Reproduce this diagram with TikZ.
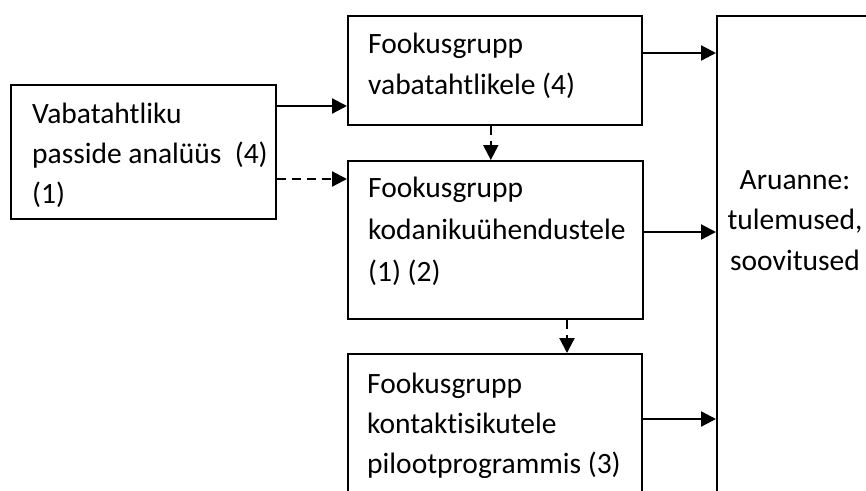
\documentclass[tikz,border=0pt]{standalone}
\usepackage{fontspec}
\setmainfont[Ligatures=NoCommon]{Carlito}
\usetikzlibrary{arrows.meta}
\tikzset{
  box/.style={draw, line width=1.6pt, anchor=north west, inner sep=0pt},
  txt/.style={anchor=base west, align=flush left, text width=280pt, inner sep=0pt},
  arr/.style={line width=2.2pt, -{Triangle[length=15pt,width=15pt]}},
  darr/.style={arr, dash pattern=on 9pt off 6pt}
}

\begin{document}
\begin{tikzpicture}[x=1pt, y=-1pt, font=\fontsize{29.5}{41}\selectfont]
\useasboundingbox (0,0) rectangle (866,490);
\clip (0,0) rectangle (866,490);
\node[box, minimum width=265pt, minimum height=134pt] (analyys) at (10,84) {};
\node[box, minimum width=294pt, minimum height=109pt] (vabat) at (347,15) {};
\node[box, minimum width=295pt, minimum height=158pt] (kodan) at (347,160) {};
\node[box, minimum width=294pt, minimum height=200pt] (pilot) at (347,353) {};
\node[box, minimum width=158pt, minimum height=520pt] (aru) at (716,15) {};
\node[txt, font=\fontsize{29.5}{40}\selectfont] (analyysT) at (32,123) {Vabatahtliku\\passide analüüs\ \ (4)\\(1)};
\node[txt] (vabatT) at (368,53) {Fookusgrupp\\vabatahtlikele (4)};
\node[txt, font=\fontsize{29.5}{42}\selectfont] (kodanT) at (368,197) {Fookusgrupp\\kodanikuühendustele\\(1) (2)};
\node[txt, font=\fontsize{29.5}{40}\selectfont] (pilotT) at (367,393) {Fookusgrupp\\kontaktisikutele\\pilootprogrammis (3)};
\node[txt, anchor=base, align=flush center, text width=160pt, font=\fontsize{29.5}{40.5}\selectfont] (aruT) at (795,189) {Aruanne:\\tulemused,\\soovitused};
\coordinate (a1) at ([yshift=-22pt]analyys.north east);
\coordinate (a2) at ([yshift=-95pt]analyys.north east);
\coordinate (v1) at ([xshift=-4pt]vabat.south);
\coordinate (k1) at ([xshift=220pt]kodan.south west);
\draw[arr] (a1) -- (a1 -| vabat.west);
\draw[darr] (a2) -- (a2 -| kodan.west);
\draw[darr] (v1) -- (v1 |- kodan.north);
\draw[darr] (k1) -- (k1 |- pilot.north);
\foreach \n/\d in {vabat/38, kodan/72, pilot/66} {
  \coordinate (s) at ([yshift=-\d pt]\n.north east);
  \draw[arr] (s) -- (s -| aru.west);
}
\end{tikzpicture}
\end{document}
